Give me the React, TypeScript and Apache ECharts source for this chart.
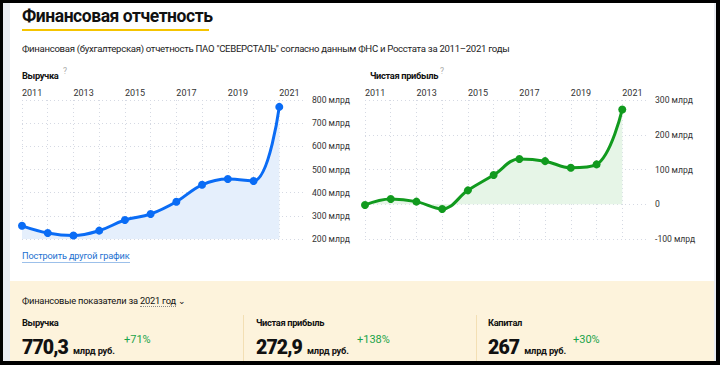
import React, { useEffect, useRef } from "react";
import * as echarts from "echarts";

const years = [2011, 2012, 2013, 2014, 2015, 2016, 2017, 2018, 2019, 2020, 2021];
const revenue = [257, 226, 215, 236, 282, 308, 361, 434, 459, 450.5, 770.3];
const profit = [-2, 15, 7.5, -13.5, 40, 84, 130, 124, 105, 114.7, 272.9];
const revenueTicks = { min: 200, max: 800, step: 100 };
const profitTicks = { min: -100, max: 300, step: 100 };
const xRange = { min: 2011, max: 2022 };

const FONT = "Roboto, 'Open Sans', sans-serif";

const abs = (s: React.CSSProperties): React.CSSProperties => ({ position: "absolute", ...s });

export default function App() {
  const ref = useRef<HTMLDivElement>(null);
  useEffect(() => {
    if (!ref.current) return;
    const chart = echarts.init(ref.current, undefined, { renderer: "svg" });
    const mkX = (idx: number) => ({
      type: "value" as const,
      gridIndex: idx,
      min: xRange.min,
      max: xRange.max,
      interval: 1,
      position: "top" as const,
      axisLine: { show: false },
      axisTick: { show: false },
      axisLabel: {
        show: true,
        fontFamily: FONT,
        fontSize: 9,
        color: "#333",
        align: "left",
        margin: 3,
        showMaxLabel: false,
        formatter: (v: number) => (v % 2 === 1 && v <= 2021 ? String(v) : ""),
      },
      splitLine: {
        show: true,
        showMaxLine: false,
        lineStyle: { color: "#d5d9e3", type: [1, 3], width: 1 },
      },
    });
    const mkY = (idx: number, t: { min: number; max: number; step: number }) => ({
      type: "value" as const,
      gridIndex: idx,
      position: "right" as const,
      min: t.min,
      max: t.max,
      interval: t.step,
      axisLine: { show: false },
      axisTick: { show: false },
      axisLabel: {
        fontFamily: FONT,
        fontSize: 8.6,
        color: "#333",
        margin: 7,
        padding: [0, 0, 7, 0],
        formatter: (v: number) => (v === 0 ? "0" : v + " млрд"),
      },
      splitLine: { show: true, lineStyle: { color: "#d5d9e3", type: [1, 3], width: 1 } },
    });
    chart.setOption({
      animation: false,
      grid: [
        { left: 22, right: 415, top: 100, bottom: 126 },
        { left: 365, right: 72, top: 100, bottom: 126 },
      ],
      xAxis: [mkX(0), mkX(1)],
      yAxis: [mkY(0, revenueTicks), mkY(1, profitTicks)],
      series: [
        {
          type: "line",
          xAxisIndex: 0,
          yAxisIndex: 0,
          data: years.map((y, i) => [y, revenue[i]]),
          smooth: 0.4,
          symbol: "circle",
          symbolSize: 8,
          lineStyle: { color: "#0a6cf5", width: 3 },
          itemStyle: { color: "#0a6cf5" },
          areaStyle: { color: "#e5effc", opacity: 1 },
        },
        {
          type: "line",
          xAxisIndex: 1,
          yAxisIndex: 1,
          data: years.map((y, i) => [y, profit[i]]),
          smooth: 0.4,
          symbol: "circle",
          symbolSize: 8,
          lineStyle: { color: "#119a1e", width: 3 },
          itemStyle: { color: "#119a1e" },
          areaStyle: { color: "#e6f5e7", opacity: 1 },
        },
      ],
    });
    return () => chart.dispose();
  }, []);

  const label: React.CSSProperties = { fontFamily: FONT, color: "#111", whiteSpace: "nowrap" };
  const head: React.CSSProperties = { ...label, fontSize: 9.3, fontWeight: 700, lineHeight: "12px", letterSpacing: -0.35 };
  const big: React.CSSProperties = { ...label, fontSize: 19.5, fontWeight: 900, lineHeight: "24px", letterSpacing: -0.9 };
  const unit: React.CSSProperties = { fontSize: 9.3, fontWeight: 700, marginLeft: 5, letterSpacing: -0.2 };
  const pct: React.CSSProperties = { ...label, fontSize: 11, lineHeight: "14px", color: "#1aa34a" };
  const q: React.CSSProperties = { ...label, fontSize: 8.5, color: "#aaa", lineHeight: "10px" };

  return (
    <div style={{ position: "fixed", left: 0, top: 0, width: 720, height: 365, background: "#000", overflow: "hidden" }}>
      <div style={abs({ left: 3, top: 3, width: 713, height: 358, background: "#e8ebf1" })} />
      <div style={abs({ left: 10, top: 3, width: 704, height: 358, background: "#fff" })} />
      <div style={abs({ left: 10, top: 281, width: 704, height: 80, background: "#fdf3dc" })} />
      <div style={abs({ left: 243, top: 315, width: 1, height: 46, background: "#f3dfb4" })} />
      <div style={abs({ left: 476, top: 315, width: 1, height: 46, background: "#f3dfb4" })} />
      <div ref={ref} style={abs({ left: 0, top: 0, width: 720, height: 365 })} />

      <div style={abs({ ...label, left: 22, top: 5, fontSize: 17.5, fontWeight: 700, lineHeight: "22px", letterSpacing: -0.45 })}>
        Финансовая отчетность
      </div>
      <div style={abs({ left: 22, top: 29, width: 187, height: 2, background: "#f5c400" })} />
      <div style={abs({ ...label, left: 22, top: 42, fontSize: 9.6, lineHeight: "13px", color: "#222", letterSpacing: -0.3 })}>
        Финансовая (бухгалтерская) отчетность ПАО "СЕВЕРСТАЛЬ" согласно данным ФНС и Росстата за 2011–2021 годы
      </div>
      <div style={abs({ ...head, left: 22, top: 70 })}>Выручка</div>
      <div style={abs({ ...q, left: 63, top: 66 })}>?</div>
      <div style={abs({ ...head, left: 370, top: 70 })}>Чистая прибыль</div>
      <div style={abs({ ...q, left: 440, top: 66 })}>?</div>
      <div style={abs({ ...label, left: 22, top: 249, fontSize: 9.2, lineHeight: "13px", color: "#1a6fd0", borderBottom: "1px solid #9cc0ea", letterSpacing: -0.15 })}>
        Построить другой график
      </div>

      <div style={abs({ ...label, left: 22, top: 295, fontSize: 9.3, lineHeight: "12px", letterSpacing: -0.2 })}>
        Финансовые показатели за <span style={{ borderBottom: "1px dotted #888" }}>2021 год</span> ⌄
      </div>

      <div style={abs({ ...head, left: 22, top: 317 })}>Выручка</div>
      <div style={abs({ ...big, left: 22, top: 336 })}>
        770,3<span style={unit}>млрд руб.</span>
      </div>
      <div style={abs({ ...pct, left: 124, top: 333 })}>+71%</div>

      <div style={abs({ ...head, left: 256, top: 317 })}>Чистая прибыль</div>
      <div style={abs({ ...big, left: 256, top: 336 })}>
        272,9<span style={unit}>млрд руб.</span>
      </div>
      <div style={abs({ ...pct, left: 357, top: 333 })}>+138%</div>

      <div style={abs({ ...head, left: 488, top: 317 })}>Капитал</div>
      <div style={abs({ ...big, left: 488, top: 336 })}>
        267<span style={unit}>млрд руб.</span>
      </div>
      <div style={abs({ ...pct, left: 573, top: 333 })}>+30%</div>
    </div>
  );
}
